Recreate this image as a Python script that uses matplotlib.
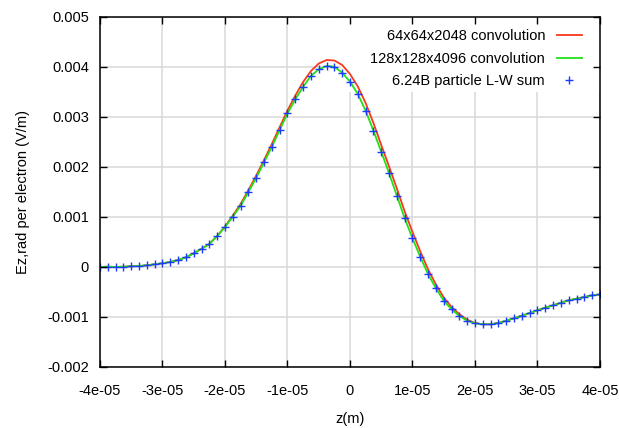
import numpy as np
import matplotlib
matplotlib.use("Agg")
import matplotlib.pyplot as plt
from matplotlib.patches import Rectangle

plt.rcParams['font.family'] = ['Liberation Sans', 'DejaVu Sans']

# sample positions (m) of the particle sum
z = np.linspace(-4e-5, 4e-5, 65)

# 6.24B particle L-W sum (V/m)
lw_sum = np.array([
    0.0, 0.000006, 0.0, 0.000006, 0.000014, 0.00002, 0.000034, 0.000054,
    0.000074, 0.0001, 0.00014, 0.000194, 0.000274, 0.000366, 0.00046, 0.00062,
    0.0008, 0.001006, 0.001226, 0.0015, 0.001786, 0.002094, 0.002406, 0.00274,
    0.00307, 0.003354, 0.003606, 0.00382, 0.003954, 0.00402, 0.004006, 0.003886,
    0.003706, 0.00346, 0.003126, 0.002726, 0.002306, 0.001874, 0.001426, 0.000974,
    0.000574, 0.0002, -0.000146, -0.000426, -0.000674, -0.000846, -0.00098, -0.001074,
    -0.001126, -0.001146, -0.001146, -0.00112, -0.001074, -0.001026, -0.000974, -0.00092,
    -0.000866, -0.000814, -0.000766, -0.000714, -0.000666, -0.000634, -0.0006, -0.000566,
    -0.00055])

# 128x128x4096 convolution
conv_128 = lw_sum.copy()

# 64x64x2048 convolution (slightly higher and wider around the peak)
conv_64 = np.array([
    0.0, 0.000006, 0.0, 0.000006, 0.000014, 0.00002, 0.000034, 0.000054,
    0.000074, 0.0001, 0.00014, 0.000194, 0.000274, 0.000366, 0.00046, 0.00062,
    0.00081, 0.00103, 0.00126, 0.00154, 0.00183, 0.00214, 0.00246, 0.0028,
    0.00313, 0.00343, 0.0037, 0.00392, 0.00407, 0.00414, 0.00413, 0.00404,
    0.00386, 0.00361, 0.00328, 0.00288, 0.00244, 0.00201, 0.00157, 0.00111,
    0.0007, 0.00031, -0.00005, -0.00035, -0.00061, -0.0008, -0.000945, -0.001055,
    -0.00112, -0.001146, -0.001146, -0.00112, -0.001074, -0.001026, -0.000974, -0.00092,
    -0.000866, -0.000814, -0.000766, -0.000714, -0.000666, -0.000634, -0.0006, -0.000566,
    -0.00055])

xticks = [-4e-5, -3e-5, -2e-5, -1e-5, 0, 1e-5, 2e-5, 3e-5, 4e-5]
xticklabels = ['-4e-05', '-3e-05', '-2e-05', '-1e-05', '0', '1e-05', '2e-05', '3e-05', '4e-05']
yticks = [-0.002, -0.001, 0, 0.001, 0.002, 0.003, 0.004, 0.005]
yticklabels = ['-0.002', '-0.001', '0', '0.001', '0.002', '0.003', '0.004', '0.005']

fig = plt.figure(figsize=(6.19, 4.28), dpi=100)
ax = fig.add_axes([100/619, 1-367/428, 500/619, 350/428])

# grid drawn by hand so the opaque key can hide it but not the curves
for xt in xticks:
    ax.axvline(xt, color='#d8d8d8', lw=1.1, zorder=1)
for yt in yticks:
    ax.axhline(yt, color='#d8d8d8', lw=1.1, zorder=1)
ax.add_patch(Rectangle((241/500, 1-75/350), 259/500, 75/350, transform=ax.transAxes,
                       facecolor='white', edgecolor='none', zorder=1.5))

ax.plot(z, conv_64, color='#f7391c', lw=1.3, label='64x64x2048 convolution', zorder=2)
ax.plot(z, conv_128, color='#22e016', lw=1.3, label='128x128x4096 convolution', zorder=2.1)
ax.plot(z, lw_sum, ls='none', marker='+', ms=6, mew=1.0, color='#1a3cff',
        label='6.24B particle L-W sum', zorder=2.2)

ax.set_xlim(-4e-5, 4e-5)
ax.set_ylim(-0.002, 0.005)
ax.set_xticks(xticks)
ax.set_xticklabels(xticklabels)
ax.set_yticks(yticks)
ax.set_yticklabels(yticklabels)
ax.tick_params(direction='in', top=True, right=True, length=5, width=1, labelsize=10.5, pad=8)
ax.tick_params(axis='x', pad=12)
ax.set_axisbelow(False)
for s in ax.spines.values():
    s.set_linewidth(1.1)

ax.set_xlabel('z(m)', fontsize=10.5, labelpad=10)
ax.set_ylabel('Ez,rad per electron (V/m)', fontsize=10.5, labelpad=12)

leg = ax.legend(loc='upper right', bbox_to_anchor=(0.982, 0.991), markerfirst=False,
                frameon=False, fontsize=10.5, handlelength=1.75, borderaxespad=0.0,
                labelspacing=0.6, borderpad=0.6)
leg.set_zorder(3)

fig.savefig('out.png', dpi=100)
